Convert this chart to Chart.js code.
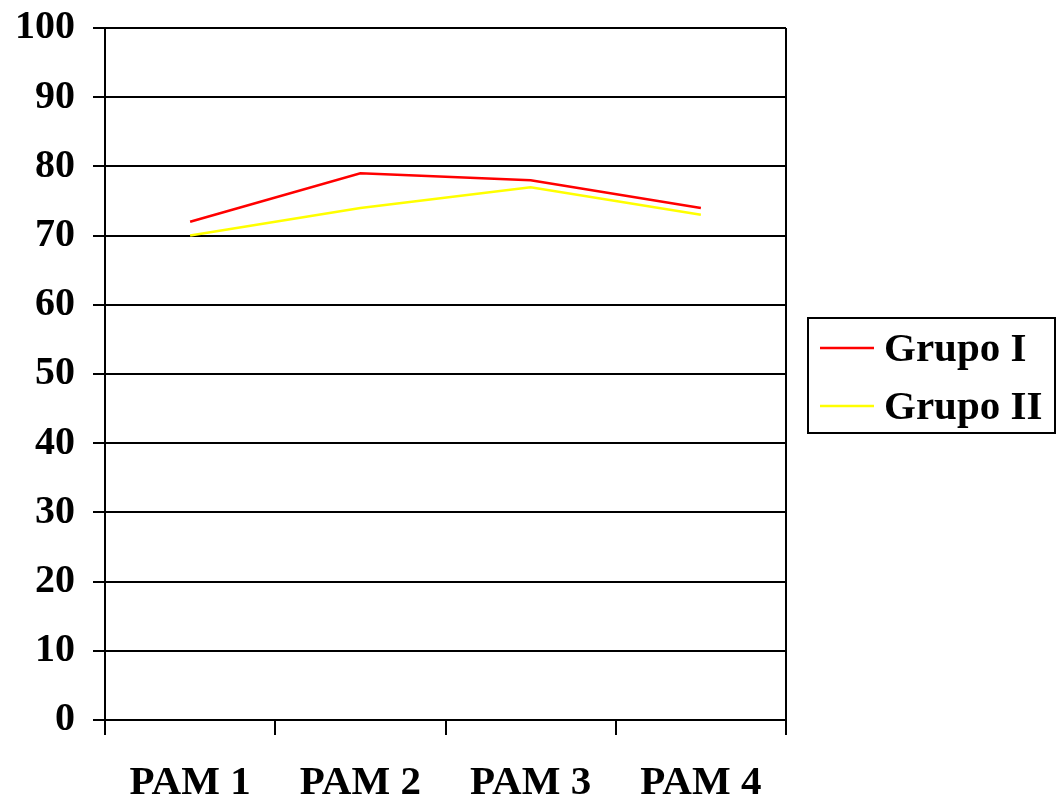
<!DOCTYPE html>
<html>
<head>
<meta charset="utf-8">
<script src="https://cdn.jsdelivr.net/npm/chart.js@4"></script>
<style>
html,body{margin:0;padding:0;background:#fff;}
#wrap{width:1057px;height:803px;}
</style>
</head>
<body>
<div id="wrap"><canvas id="c" width="1057" height="803"></canvas></div>
<script>
const categories = ["PAM 1", "PAM 2", "PAM 3", "PAM 4"];
const grupoI = [72, 79, 78, 74];
const grupoII = [70, 74, 77, 73];
const seriesNames = ["Grupo I", "Grupo II"];
const seriesColors = ["#ff0000", "#ffff00"];

const FONT = "'Liberation Serif', 'Times New Roman', serif";

const frameAndLegend = {
  id: 'frameAndLegend',
  afterDraw(chart) {
    const ctx = chart.ctx;
    const a = chart.chartArea;
    ctx.save();
    ctx.strokeStyle = '#000';
    ctx.lineWidth = 2;
    ctx.beginPath();
    ctx.moveTo(a.right, a.top);
    ctx.lineTo(a.right, a.bottom);
    ctx.stroke();
    const bx = a.right + 22, by = 318, bw = 247, bh = 115;
    ctx.strokeRect(bx, by, bw, bh);
    ctx.font = "bold 41px " + FONT;
    ctx.textBaseline = 'middle';
    ctx.textAlign = 'left';
    chart.data.datasets.forEach((ds, i) => {
      const y = by + 30 + i * 58;
      ctx.strokeStyle = ds.borderColor;
      ctx.lineWidth = 2.5;
      ctx.beginPath();
      ctx.moveTo(bx + 12, y);
      ctx.lineTo(bx + 66, y);
      ctx.stroke();
      ctx.fillStyle = '#000';
      ctx.fillText(ds.label, bx + 76, y + 2);
    });
    ctx.restore();
  }
};

new Chart(document.getElementById('c'), {
  type: 'line',
  data: {
    labels: categories,
    datasets: [
      { label: seriesNames[0], data: grupoI, borderColor: seriesColors[0], borderWidth: 2.5, pointRadius: 0, tension: 0, fill: false },
      { label: seriesNames[1], data: grupoII, borderColor: seriesColors[1], borderWidth: 2.5, pointRadius: 0, tension: 0, fill: false }
    ]
  },
  options: {
    responsive: false,
    animation: false,
    layout: { padding: { left: 0, top: 28, right: 271, bottom: 0 } },
    plugins: { legend: { display: false }, tooltip: { enabled: false } },
    scales: {
      x: {
        offset: true,
        grid: { offset: true, drawOnChartArea: false, drawTicks: true, tickLength: 15, tickColor: '#000', lineWidth: 2 },
        border: { color: '#000', width: 2 },
        ticks: { color: '#000', font: { family: FONT, size: 41, weight: 'bold' }, padding: 24, maxRotation: 0 },
        afterFit(s) { s.height = 83; s.paddingLeft = 0; s.paddingRight = 0; }
      },
      y: {
        min: 0, max: 100,
        grid: { color: '#000', lineWidth: 2, tickLength: 12, tickColor: '#000' },
        border: { color: '#000', width: 2 },
        ticks: { stepSize: 10, color: '#000', font: { family: FONT, size: 40, weight: 'bold' }, padding: 18 },
        afterFit(s) { s.width = 105; s.paddingTop = 0; s.paddingBottom = 0; }
      }
    }
  },
  plugins: [frameAndLegend]
});
</script>
</body>
</html>
